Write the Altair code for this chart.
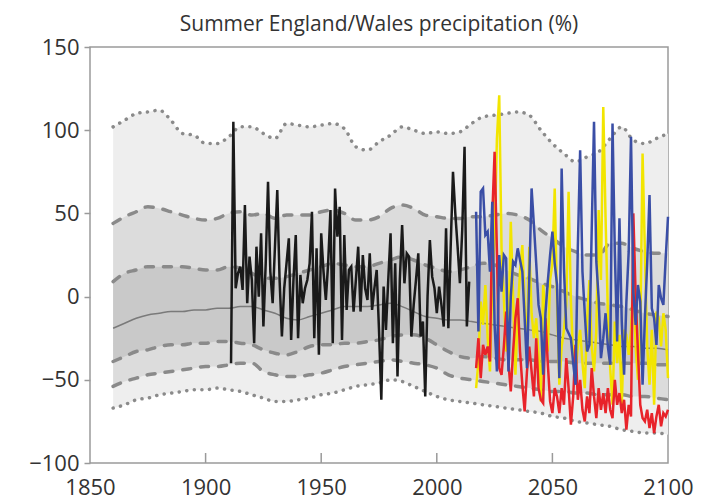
import altair as alt
import pandas as pd

TITLE = "Summer England/Wales precipitation (%)"

# ---- envelope (model spread), read at 5-year knots ----
KNOT_YEARS = list(range(1860, 2101, 5))
UPPER_DOT = [102, 106, 110, 111, 112, 106, 98, 97, 92, 92, 96, 102, 102, 98, 95, 104, 103, 102, 103, 104,
             101, 90, 88, 93, 97, 102, 100, 98, 99, 98, 99, 104, 108, 109, 110, 111, 109, 100, 92, 86,
             81, 84, 87, 95, 102, 94, 92, 95, 98]
OUTER_UP = [44, 48, 51, 54, 53, 51, 49, 47, 46, 47, 50, 51, 49, 50, 47, 49, 49, 49, 51, 52,
            50, 46, 46, 48, 53, 55, 53, 49, 48, 47, 47, 48, 48, 49, 50, 49, 46, 40, 35, 30,
            27, 25, 25, 32, 32, 29, 27, 26, 26]
INNER_UP = [9, 14, 16, 18, 18, 18, 18, 17, 16, 16, 18, 17, 14, 11, 11, 12, 14, 16, 18, 20,
            19, 18, 18, 20, 22, 24, 22, 19, 17, 15, 16, 18, 20, 19, 16, 13, 11, 8, 6, 3,
            0, -2, -4, -5, -6, -8, -10, -11, -12]
MEDIAN = [-19, -16, -13, -11, -10, -9, -9, -8, -8, -7, -7, -6, -6, -8, -10, -13, -14, -12, -10, -8,
          -6, -6, -6, -5, -4, -6, -9, -12, -13, -14, -14, -15, -16, -17, -18, -19, -20, -21, -23, -25,
          -26, -27, -28, -29, -30, -30, -31, -31, -32]
INNER_LO = [-39, -36, -33, -32, -30, -29, -29, -28, -28, -27, -27, -28, -29, -32, -34, -35, -33, -30, -29, -29,
            -28, -28, -27, -26, -24, -23, -23, -25, -29, -33, -36, -37, -36, -37, -38, -38, -38, -39, -39, -39,
            -40, -40, -40, -40, -40, -40, -40, -41, -41]
OUTER_LO = [-54, -51, -49, -47, -46, -45, -44, -43, -42, -42, -41, -40, -40, -45, -47, -48, -48, -47, -46, -44,
            -42, -41, -40, -39, -38, -39, -40, -41, -43, -47, -49, -50, -51, -52, -53, -54, -55, -56, -57, -57,
            -58, -58, -59, -59, -59, -60, -60, -61, -62]
LOWER_DOT = [-67, -65, -62, -61, -59, -58, -57, -56, -56, -55, -56, -57, -59, -61, -63, -63, -62, -61, -59, -58,
             -56, -54, -53, -52, -50, -51, -54, -57, -60, -62, -63, -64, -65, -66, -67, -68, -69, -70, -72, -73,
             -75, -76, -77, -78, -80, -81, -82, -82, -83]

# ---- observations 1911-2014 ----
OBS_START = 1911
OBS = [-40, 105, 5, 14, 18, 4, 55, -4, 24, 10, -28, 30, 0, 38, -18, 20, 69, 15, -4, 30,
       64, 10, -24, 5, 20, 35, -26, 10, 37, -25, 13, -4, 5, 10, 20, 51, -25, 29, -35, 38,
       15, -2, 20, 52, -28, 65, 36, 54, -26, 37, -8, 16, 18, -9, 10, 30, -9, 25, 5, -2,
       26, -8, 5, 16, -20, -62, 6, -20, 10, 38, -28, 20, -48, 10, 43, 8, 26, 24, -24, -5,
       10, 26, -24, -15, -60, 0, 34, 12, 5, -10, 6, -5, -18, 41, -19, 30, 75, 50, 30, 8,
       40, 90, -18, 9]

# ---- projections 2017-2100 ----
PROJ_START = 2017
BLUE = [51, -21, 63, 65, 37, 39, 15, 57, -17, -45, 25, 3, 25, 23, -45, 0, 21, 19, 29, 22,
        15, -13, -43, 11, 65, 43,
        20, -5, -13, -47, -10, 9, 25, 39, 20, 7, -49, 77, 17, -19, -22, -25, -40, -53, 30, 88,
        15, -10, -33, -29, 40, 105, 21, -1, -37, -25, -10, -30, -41, 104, 27, -27, 47, -15, -47, -3,
        27, 96, 3, -17, 7, -3, -53, -13, 20, 61, -7, -13, -29, 7, -1, -5, 23, 48]
YELLOW = [-55, -39, -3, -17, 7, -25, -45, 10, 35, 95, 121, 29, -1, -33, -20, 45, 0, -47, -10, 15,
          31, -5, -33, 30, -10, -25, -13, -35, -63, 7, -10, -33, 10, 20, 65, -3, -53, -30, -20, -5,
          63, -3, -37, -45, -30, -20, -40, -55, -15, 10, -30, -45, -20, 52, 10, 114, 47, -10, -43, -65,
          -15, -40, -23, -65, -20, -23, -35, -20, 10, -30, -50, -25, 86, 27, -30, -53, -20, -65, -9, -13,
          -30, -10, -20, -49]
RED = [-43, -25, -49, -29, -35, -30, -39, 49, 87, 27, -43, -47, -30, -9, -40, -57, -33, -13, -1, -33,
       -53, -69, -45, -30, -45, -60, -25, -55, -62, -64, -13, -40, -63, -70, -55, -60, -70, -55, -65, -37,
       -55, -77, -60, -29, -62, -50, -68, -75, -60, -70, -43, -60, -73, -55, -68, -58, -70, -55, -68, -73,
       -50, -65, -58, -70, -62, -80, -65, -72, 50, 1, -33, -65, -73, -75, -68, -79, -70, -82, -72, -65,
       -78, -70, -72, -68]

X_TICKS = [1850, 1900, 1950, 2000, 2050, 2100]
Y_TICKS = [-100, -50, 0, 50, 100, 150]
INNER_TICKS = [1900, 1950, 2000, 2050]

FONT = "Open Sans"

env = pd.DataFrame({"year": KNOT_YEARS, "ud": UPPER_DOT, "oud": OUTER_UP, "iud": INNER_UP,
                    "med": MEDIAN, "ild": INNER_LO, "old": OUTER_LO, "ld": LOWER_DOT})
obs = pd.DataFrame({"year": [OBS_START + i for i in range(len(OBS))], "v": OBS})
proj = pd.DataFrame({"year": [PROJ_START + i for i in range(len(BLUE))],
                     "blue": BLUE, "yellow": YELLOW, "red": RED})
ticks = pd.DataFrame({"year": INNER_TICKS, "lo": [-100] * len(INNER_TICKS), "hi": [-94] * len(INNER_TICKS)})
title_df = pd.DataFrame({"t": [TITLE]})

xs = alt.Scale(domain=[1850, 2100], nice=False, zero=False)
ys = alt.Scale(domain=[-100, 150], nice=False, zero=False)
x_axis = alt.Axis(values=X_TICKS, format="d", title=None, domain=False, ticks=False, grid=False,
                  labelFontSize=22, labelFont=FONT, labelColor="#333333", labelPadding=14,
                  labelFlush=False, labelOverlap=False)
y_axis = alt.Axis(values=Y_TICKS, title=None, domain=False, grid=False, tickSize=6, tickColor="#9a9a9a",
                  tickWidth=1.5, labelFontSize=22, labelFont=FONT, labelColor="#333333", labelPadding=5,
                  labelFlush=False, labelOverlap=False)


def X():
    return alt.X("year:Q", scale=xs, axis=x_axis)


def Y(field):
    return alt.Y(f"{field}:Q", scale=ys, axis=y_axis)


base = alt.Chart(env)
band_outer = base.mark_area(color="#eeeeee", interpolate="monotone").encode(x=X(), y=Y("ud"), y2="ld")
band_mid = base.mark_area(color="#dcdcdc", interpolate="monotone").encode(x=X(), y=Y("oud"), y2="old")
band_in = base.mark_area(color="#c9c9c9", interpolate="monotone").encode(x=X(), y=Y("iud"), y2="ild")
median = base.mark_line(color="#7a7a7a", strokeWidth=1.5, interpolate="monotone").encode(x=X(), y=Y("med"))

dash_layers = [base.mark_line(color="#8a8a8a", strokeWidth=3.5, strokeDash=[8, 10], strokeCap="round",
                              interpolate="monotone").encode(x=X(), y=Y(f))
               for f in ["oud", "iud", "ild", "old"]]
dot_layers = [base.mark_line(color="#8a8a8a", strokeWidth=3.5, strokeDash=[0.1, 7.5], strokeCap="round",
                             interpolate="monotone").encode(x=X(), y=Y(f))
              for f in ["ud", "ld"]]

obs_line = alt.Chart(obs).mark_line(color="#1a1a1a", strokeWidth=2.5).encode(x=X(), y=Y("v"))
pbase = alt.Chart(proj)
yellow_line = pbase.mark_line(color="#f2e500", strokeWidth=2.5).encode(x=X(), y=Y("yellow"))
red_line = pbase.mark_line(color="#e8232a", strokeWidth=2.5).encode(x=X(), y=Y("red"))
blue_line = pbase.mark_line(color="#3a4ea6", strokeWidth=2.5).encode(x=X(), y=Y("blue"))

tick_rules = alt.Chart(ticks).mark_rule(color="#9a9a9a", strokeWidth=1.5).encode(
    x=X(), y=Y("lo"), y2="hi")

title_text = alt.Chart(title_df).mark_text(
    font=FONT, fontSize=21, color="#333333", align="center", baseline="alphabetic"
).encode(text="t:N", x=alt.value(289), y=alt.value(-16))

chart = alt.layer(
    band_outer, band_mid, band_in, median, *dash_layers, *dot_layers,
    obs_line, yellow_line, red_line, blue_line, tick_rules, title_text
).properties(
    width=578, height=416,
    autosize=alt.AutoSizeParams(type="none"),
    padding={"left": 82, "top": 39, "right": 44, "bottom": 37},
).configure_view(stroke="#9a9a9a", strokeWidth=1.5)

chart.save("out.html", embed_options={"renderer": "svg", "actions": False})
